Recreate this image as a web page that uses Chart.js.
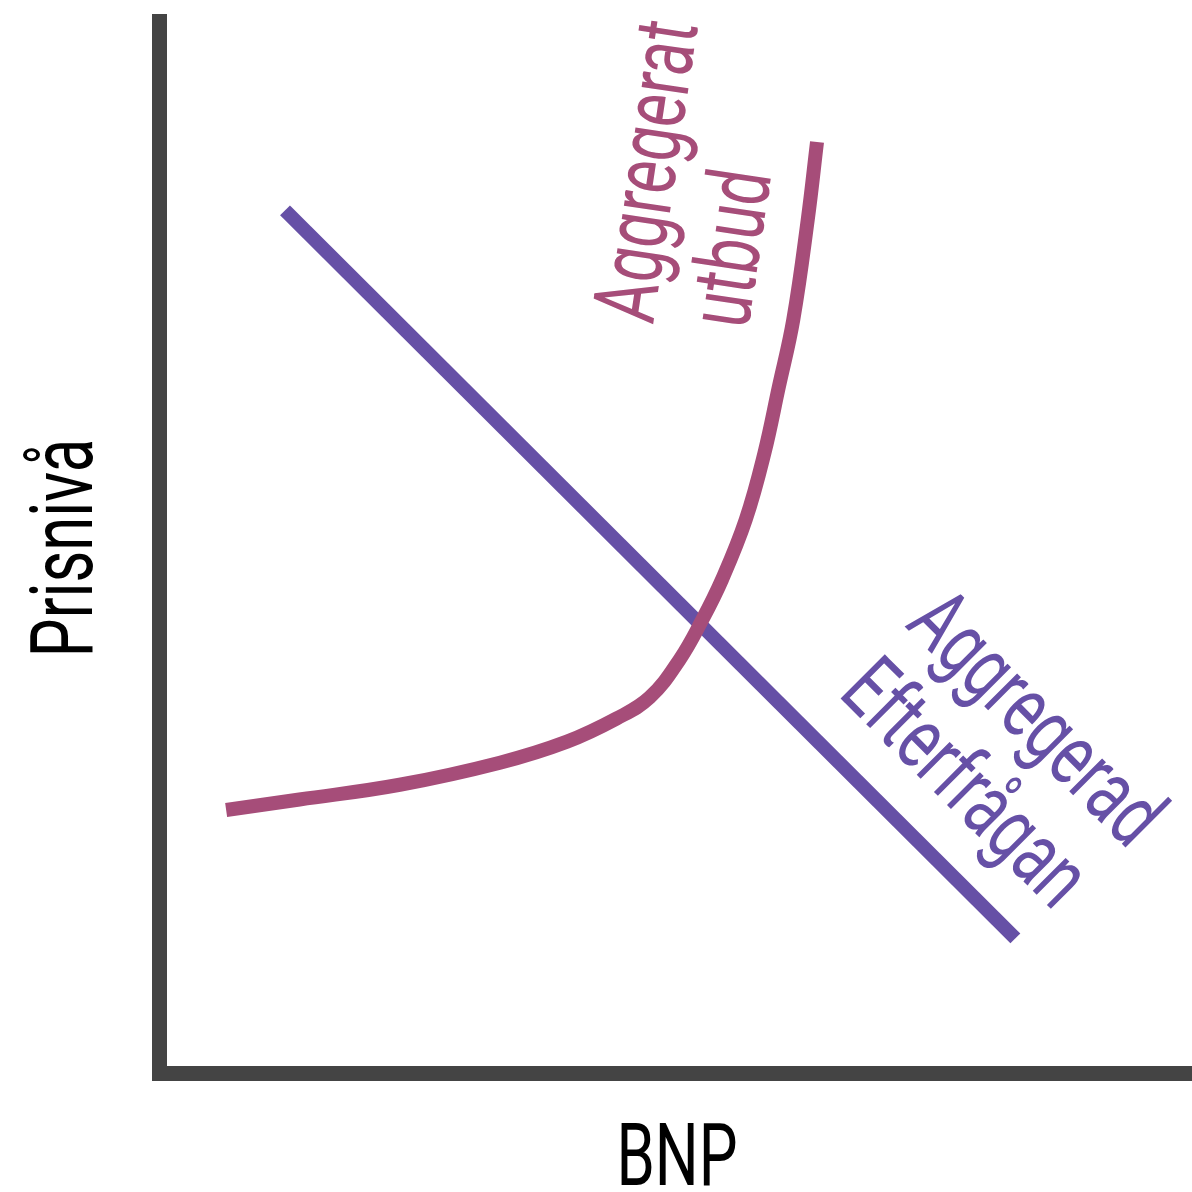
<!DOCTYPE html>
<html>
<head>
<meta charset="utf-8">
<script src="https://cdn.jsdelivr.net/npm/chart.js@4/dist/chart.umd.min.js"></script>
<style>
  html, body { margin: 0; padding: 0; background: #fff; }
  #wrap { width: 1192px; height: 1192px; position: relative; }
</style>
</head>
<body>
<div id="wrap"><canvas id="c"></canvas></div>
<script>
// aggregerat utbud (AS) - curve
var asX = [6.5, 13.6, 23.3, 33.0, 39.5, 44.3, 47.5, 50.4, 52.6, 54.5, 56.8, 58.6, 60.0, 61.4, 62.8, 63.7];
var asY = [25.0, 26.0, 27.4, 29.5, 31.5, 33.7, 35.7, 39.3, 43.1, 46.9, 52.6, 58.9, 65.2, 71.6, 81.1, 88.5];
// aggregerad efterfragan (AD) - straight line
var adX = [12.2, 82.9];
var adY = [82.0, 12.8];

var xTitle = 'BNP';
var yTitle = 'Prisnivå';
var asLabel = ['Aggregerat', 'utbud'];
var adLabel = ['Aggregerad', 'Efterfrågan'];

var PINK = '#a64d79';
var PURPLE = '#6650a6';
var AXIS = '#444444';

function pts(xs, ys) {
  return xs.map(function (x, i) { return { x: x, y: ys[i] }; });
}

// condensed text: draw rotated, squeezed along the text direction
function condText(ctx, txt, x, y, deg, color, align) {
  ctx.save();
  ctx.translate(x, y);
  ctx.rotate(deg * Math.PI / 180);
  ctx.scale(0.7, 1);
  ctx.font = '400 88px Roboto';
  ctx.fillStyle = color;
  ctx.textAlign = align || 'left';
  ctx.textBaseline = 'alphabetic';
  ctx.fillText(txt, 0, 0);
  ctx.restore();
}

var textPlugin = {
  id: 'textPlugin',
  afterDatasetsDraw: function (chart) {
    var ctx = chart.ctx;
    condText(ctx, xTitle, 677, 1185, 0, '#000', 'center');
    condText(ctx, yTitle, 92, 548, -90, '#000', 'center');
    condText(ctx, asLabel[0], 653, 325, -81.5, PINK);
    condText(ctx, asLabel[1], 748, 330, -81.5, PINK);
    condText(ctx, adLabel[0], 904, 626, 45, PURPLE);
    condText(ctx, adLabel[1], 837, 695, 45, PURPLE);
  }
};

var axisOpts = {
  type: 'linear',
  min: 0,
  max: 100,
  grid: { display: true, color: 'transparent', drawTicks: false },
  ticks: { display: false },
  border: { display: true, color: AXIS, width: 15 }
};

new Chart(document.getElementById('c'), {
  type: 'scatter',
  data: {
    datasets: [
      {
        label: 'AS',
        data: pts(asX, asY),
        showLine: true,
        borderColor: PINK,
        borderWidth: 14,
        borderCapStyle: 'butt',
        tension: 0.4,
        pointRadius: 0
      },
      {
        label: 'AD',
        data: pts(adX, adY),
        showLine: true,
        borderColor: PURPLE,
        borderWidth: 14,
        borderCapStyle: 'butt',
        pointRadius: 0
      }
    ]
  },
  options: {
    responsive: true,
    maintainAspectRatio: false,
    devicePixelRatio: 1,
    animation: false,
    layout: { padding: { left: 159, top: 21, right: 0, bottom: 119 } },
    plugins: { legend: { display: false }, tooltip: { enabled: false } },
    scales: { x: axisOpts, y: Object.assign({}, axisOpts) }
  },
  plugins: [textPlugin]
});
</script>
</body>
</html>
